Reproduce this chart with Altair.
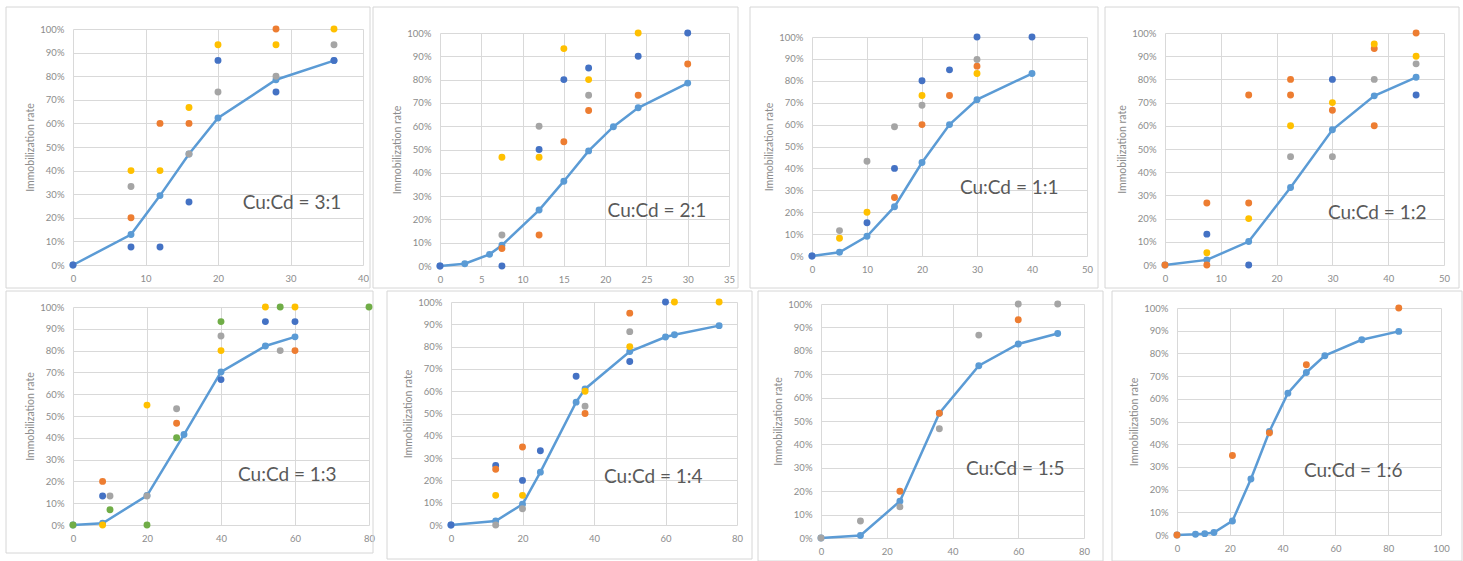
import altair as alt
import pandas as pd

# Series colours (Excel-style palette) and the fitted curve colour
SERIES = ["Set 1", "Set 2", "Set 3", "Set 4", "Set 5"]
SERIES_COLORS = ["#4472C4", "#ED7D31", "#A5A5A5", "#FFC000", "#70AD47"]
FIT_COLOR = "#5B9BD5"
GRID_COLOR = "#D9D9D9"
FRAME_COLOR = "#D6D6D6"
AXIS_TEXT = "#8C8C8C"
NOTE_TEXT = "#595959"
FONT = "Lato"

# ---- Cu:Cd = 3:1 ----
fit_x_31 = [0, 8, 12, 16, 20, 28, 36]
fit_y_31 = [0, 12.9, 29.4, 47, 62.3, 78.5, 86.6]
s1_31 = [(0, 0), (8, 7.6), (12, 7.6), (16, 26.7), (20, 86.7), (28, 73.3), (36, 86.7)]
s2_31 = [(8, 20), (12, 60), (16, 60), (28, 100)]
s3_31 = [(8, 33.3), (16, 47), (20, 73.3), (28, 80), (36, 93.3)]
s4_31 = [(8, 40), (12, 40), (16, 66.7), (20, 93.3), (28, 93.3), (36, 100)]

# ---- Cu:Cd = 2:1 ----
fit_x_21 = [0, 3, 6, 7.5, 12, 15, 18, 21, 24, 30]
fit_y_21 = [0, 1, 5, 8.9, 24, 36.4, 49.4, 59.8, 67.9, 78.5]
s1_21 = [(0, 0), (7.5, 0), (12, 50), (15, 80), (18, 85), (24, 90), (30, 100)]
s2_21 = [(7.5, 7.5), (12, 13.3), (15, 53.3), (18, 66.7), (24, 73.3), (30, 86.7)]
s3_21 = [(7.5, 13.3), (12, 60), (18, 73.3)]
s4_21 = [(7.5, 46.7), (12, 46.7), (15, 93.3), (18, 80), (24, 100)]

# ---- Cu:Cd = 1:1 ----
fit_x_11 = [0, 5, 10, 15, 20, 25, 30, 40]
fit_y_11 = [0, 1.7, 9, 22.5, 42.7, 60, 71.4, 83.3]
s1_11 = [(0, 0), (10, 15.2), (15, 40), (20, 80), (25, 85), (30, 100), (40, 100)]
s2_11 = [(15, 26.7), (20, 60), (25, 73.3), (30, 86.7)]
s3_11 = [(5, 11.6), (10, 43.3), (15, 59), (20, 68.8), (30, 89.7)]
s4_11 = [(5, 8.1), (10, 20), (20, 73.3), (30, 83.3)]

# ---- Cu:Cd = 1:2 ----
fit_x_12 = [0, 7.5, 15, 22.5, 30, 37.5, 45]
fit_y_12 = [0, 2.2, 10.1, 33.4, 58.3, 72.9, 80.9]
s1_12 = [(7.5, 13.3), (15, 0), (30, 80), (45, 73.3)]
s2_12 = [(0, 0), (7.5, 26.7), (7.5, 0), (15, 73.3), (15, 26.7), (22.5, 80),
         (22.5, 73.3), (30, 66.7), (37.5, 93.3), (37.5, 60), (45, 100)]
s3_12 = [(22.5, 46.7), (30, 46.7), (37.5, 80), (45, 86.7)]
s4_12 = [(7.5, 5.3), (15, 20), (22.5, 60), (30, 70), (37.5, 95.3), (45, 90)]

# ---- Cu:Cd = 1:3 ----
fit_x_13 = [0, 8, 20, 30, 40, 52, 60]
fit_y_13 = [0, 0.8, 13.5, 41.5, 70.2, 82.1, 86.3]
s1_13 = [(8, 13.3), (40, 66.7), (52, 93.3), (60, 93.3)]
s2_13 = [(8, 20), (28, 46.7), (60, 80)]
s3_13 = [(10, 13.3), (20, 13.3), (28, 53.3), (40, 86.7), (56, 80)]
s4_13 = [(8, 0), (20, 55), (40, 80), (52, 100), (60, 100)]
s5_13 = [(0, 0), (10, 7), (20, 0), (28, 40), (40, 93.3), (56, 100), (80, 100)]

# ---- Cu:Cd = 1:4 ----
fit_x_14 = [0, 12.5, 20, 25, 35, 37.5, 50, 60, 62.5, 75]
fit_y_14 = [0, 1.8, 9.3, 23.7, 55.1, 61, 77.8, 84.3, 85.3, 89.4]
s1_14 = [(0, 0), (12.5, 26.7), (20, 20), (25, 33.3), (35, 66.7), (50, 73.3), (60, 100)]
s2_14 = [(12.5, 25), (20, 35), (37.5, 50), (50, 95)]
s3_14 = [(12.5, 0), (20, 7.3), (37.5, 53.3), (50, 86.7)]
s4_14 = [(12.5, 13.3), (20, 13.3), (37.5, 60), (50, 80), (62.5, 100), (75, 100)]

# ---- Cu:Cd = 1:5 ----
fit_x_15 = [0, 12, 24, 36, 48, 60, 72]
fit_y_15 = [0, 1.1, 15.7, 53.3, 73.6, 82.9, 87.4]
s2_15 = [(24, 20), (36, 53.3), (60, 93.3)]
s3_15 = [(0, 0), (12, 7.3), (24, 13.3), (36, 46.7), (48, 86.7), (60, 100), (72, 100)]

# ---- Cu:Cd = 1:6 ----
fit_x_16 = [0, 7, 10.5, 14, 21, 28, 35, 42, 49, 56, 70, 84]
fit_y_16 = [0, 0.3, 0.6, 1.1, 6.2, 24.7, 45.6, 62.5, 71.6, 79, 86, 89.7]
s2_16 = [(0, 0), (21, 35), (35, 45), (49, 75), (84, 100)]


def spacer():
    """A 1x1 invisible view; stacking a panel under it makes the panel's frame the row top."""
    return alt.Chart(pd.DataFrame({"k": [0]})).mark_rect(
        fill="white", fillOpacity=0, strokeWidth=0
    ).encode(
        x=alt.value(0), x2=alt.value(1), y=alt.value(0), y2=alt.value(1)
    ).properties(width=1, height=1)


def panel(note, fit_x, fit_y, observed, x_max, x_step, w, h, frame, note_at):
    """One Cu:Cd ratio: measured points, fitted curve, ratio label and chart frame."""
    rows = []
    for name, pts in observed:
        for px, py in pts:
            rows.append({"x": px, "y": py, "series": name})
    obs_df = pd.DataFrame(rows)
    fit_df = pd.DataFrame({"x": fit_x, "y": fit_y})
    note_df = pd.DataFrame({"x": [note_at[0]], "y": [note_at[1]], "t": [note]})

    x_enc = alt.X(
        "x:Q",
        scale=alt.Scale(domain=[0, x_max], nice=False, zero=False),
        axis=alt.Axis(values=list(range(0, x_max + 1, x_step)), title=None,
                      labelFlush=False, labelOverlap=False, labelPadding=8),
    )
    y_enc = alt.Y(
        "y:Q",
        scale=alt.Scale(domain=[0, 100], nice=False, zero=False),
        axis=alt.Axis(values=list(range(0, 101, 10)), labelExpr="datum.value + '%'",
                      title="Immobilization rate", labelPadding=9, titlePadding=4,
                      labelOverlap=False),
    )

    left, right, top, bottom = frame
    box = alt.Chart(pd.DataFrame({"k": [0]})).mark_rect(
        filled=False, stroke=FRAME_COLOR, strokeWidth=1
    ).encode(
        x=alt.value(-left), x2=alt.value(w + right),
        y=alt.value(-top), y2=alt.value(h + bottom),
    )

    fit = alt.Chart(fit_df).mark_line(
        color=FIT_COLOR, strokeWidth=2.5,
        point=alt.OverlayMarkDef(color=FIT_COLOR, filled=True, size=48, opacity=1),
    ).encode(x=x_enc, y=y_enc)

    pts = alt.Chart(obs_df).mark_circle(size=48, opacity=1).encode(
        x=x_enc, y=y_enc,
        color=alt.Color("series:N", scale=alt.Scale(domain=SERIES, range=SERIES_COLORS),
                        legend=None),
    )

    label = alt.Chart(note_df).mark_text(
        align="left", baseline="middle", font=FONT, fontSize=19, color=NOTE_TEXT
    ).encode(x=x_enc, y=y_enc, text="t:N")

    layered = alt.layer(box, fit, pts, label).properties(width=w, height=h)
    return alt.vconcat(spacer(), layered, spacing=0)


p31 = panel("Cu:Cd = 3:1", fit_x_31, fit_y_31,
            [("Set 1", s1_31), ("Set 2", s2_31), ("Set 3", s3_31), ("Set 4", s4_31)],
            40, 10, 290, 236, (67, 7, 22, 23), (23.4, 26.3))
p21 = panel("Cu:Cd = 2:1", fit_x_21, fit_y_21,
            [("Set 1", s1_21), ("Set 2", s2_21), ("Set 3", s3_21), ("Set 4", s4_21)],
            35, 5, 289, 233, (67, 9, 26, 22), (20.3, 23.6))
p11 = panel("Cu:Cd = 1:1", fit_x_11, fit_y_11,
            [("Set 1", s1_11), ("Set 2", s2_11), ("Set 3", s3_11), ("Set 4", s4_11)],
            50, 10, 275, 219, (62, 11, 30, 32), (26.9, 31))
p12 = panel("Cu:Cd = 1:2", fit_x_12, fit_y_12,
            [("Set 1", s1_12), ("Set 2", s2_12), ("Set 3", s3_12), ("Set 4", s4_12)],
            50, 10, 279, 232, (60, 15, 26, 23), (29.2, 22.4))
p13 = panel("Cu:Cd = 1:3", fit_x_13, fit_y_13,
            [("Set 1", s1_13), ("Set 2", s2_13), ("Set 3", s3_13), ("Set 4", s4_13),
             ("Set 5", s5_13)],
            80, 20, 296, 218, (67, 4, 16, 28), (44.6, 22.9))
p14 = panel("Cu:Cd = 1:4", fit_x_14, fit_y_14,
            [("Set 1", s1_14), ("Set 2", s2_14), ("Set 3", s3_14), ("Set 4", s4_14)],
            80, 20, 286, 223, (64, 15, 11, 34), (42.8, 21.5))
p15 = panel("Cu:Cd = 1:5", fit_x_15, fit_y_15,
            [("Set 3", s3_15), ("Set 2", s2_15)],
            80, 20, 263, 234, (63, 19, 13, 23), (44.1, 29.5))
p16 = panel("Cu:Cd = 1:6", fit_x_16, fit_y_16,
            [("Set 2", s2_16)],
            100, 20, 264, 227, (65, 21, 17, 26), (48.1, 28.2))

top_row = alt.hconcat(
    alt.hconcat(p31, p21, spacing=1),
    alt.hconcat(p11, p12, spacing=5),
    spacing=10,
)
bottom_row = alt.hconcat(
    alt.hconcat(p13, p14, spacing=11),
    alt.hconcat(p15, p16, spacing=7),
    spacing=4,
)

chart = alt.vconcat(top_row, bottom_row, spacing=0).properties(
    padding={"left": 5, "top": 5, "right": 0, "bottom": 0},
    background="white",
).configure_view(
    strokeWidth=0
).configure_axis(
    grid=True, gridColor=GRID_COLOR, gridWidth=1,
    domain=False, ticks=False,
    labelFont=FONT, labelFontSize=9.5, labelColor=AXIS_TEXT,
    titleFont=FONT, titleFontSize=10.5, titleColor=AXIS_TEXT, titleFontWeight="normal",
)

chart.save("out.html", embed_options={"renderer": "svg", "actions": False})
